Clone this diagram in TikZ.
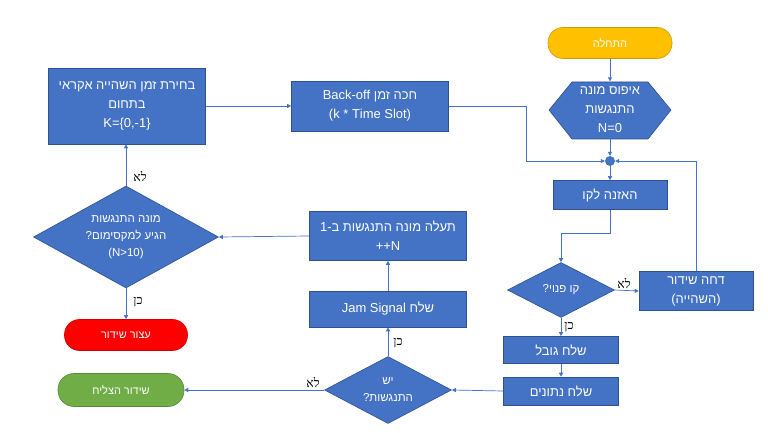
\documentclass[tikz,border=0pt]{standalone}
\usepackage{fontspec}
\setmainfont{Liberation Sans}
\newfontfamily\hebfont[Script=Hebrew]{Liberation Sans}
\newfontfamily\hebserif[Script=Hebrew]{Liberation Serif}
\usetikzlibrary{shapes.geometric,arrows.meta}
\TeXXeTstate=1
\newcommand{\rtl}[1]{\beginR #1\endR}
\newcommand{\qm}{\kern0pt?}
\definecolor{boxblue}{HTML}{4472C4}
\definecolor{boxedge}{HTML}{2F528F}
\definecolor{startgold}{HTML}{FFC000}
\definecolor{stopred}{HTML}{FF0000}
\definecolor{okgreen}{HTML}{70AD47}

\begin{document}
\begin{tikzpicture}[x=1bp,y=-1bp,
  box/.style={draw=boxedge, fill=boxblue, text=white, line width=0.6bp,
    font=\hebfont\fontsize{13}{19}\selectfont, align=center, inner sep=1bp},
  dec/.style={diamond, aspect=2, draw=boxedge, fill=boxblue, text=white, line width=0.6bp,
    font=\hebfont\fontsize{11.5}{17}\selectfont, align=center, inner sep=0pt},
  term/.style={draw=#1!80!black, fill=#1, text=white, line width=0.6bp, rounded corners=15bp,
    font=\hebfont\fontsize{11}{13}\selectfont},
  flow/.style={draw=boxblue, line width=0.7bp, -{Triangle[length=4bp,width=4bp]}},
  lbl/.style={font=\hebserif\fontsize{12.5}{15}\selectfont, inner sep=1bp}]
  \useasboundingbox (0,0) rectangle (768,433);
  \fill[white] (0,0) rectangle (768,433);
  % coluna direita
  \node[term=startgold, minimum width=124bp, minimum height=31bp] (start) at (610,43) {\rtl{התחלה}};
  \filldraw[draw=boxedge, fill=boxblue, line width=0.6bp]
    (549,110) -- (572,82) -- (648,82) -- (671,110) -- (648,139) -- (572,139) -- cycle;
  \node[font=\hebfont\fontsize{13}{19}\selectfont, text=white, align=center,
    minimum width=122bp, minimum height=57bp, inner sep=0pt] (reset) at (610,110)
    {\rtl{איפוס מונה}\\\rtl{התנגשות}\\N=0};
  \node[circle, fill=boxblue, minimum size=10bp, inner sep=0pt] (jn) at (610,161) {};
  \node[box, minimum width=114bp, minimum height=29bp] (listen) at (610,195) {\rtl{האזנה לקו}};
  \node[dec, minimum width=107bp, minimum height=55bp] (free) at (561,290) {\rtl{קו פנוי\qm}};
  \node[box, minimum width=114bp, minimum height=39bp] (defer) at (696,291)
    {\rtl{דחה שידור}\\\rtl{(השהייה)}};
  \node[box, minimum width=115bp, minimum height=27bp] (preamble) at (561,350) {\rtl{שלח גובל}};
  \node[box, minimum width=115bp, minimum height=28bp] (data) at (561,391) {\rtl{שלח נתונים}};
  % coluna do meio
  \node[dec, minimum width=127bp, minimum height=67bp] (coll) at (388,390)
    {\rtl{יש}\\\rtl{התנגשות\qm}};
  \node[box, minimum width=157bp, minimum height=36bp] (jam) at (388,309)
    {\beginR שלח \beginL Jam Signal\endL\endR};
  \node[box, minimum width=157bp, minimum height=49bp] (inc) at (388,236)
    {\rtl{תעלה מונה התנגשות ב-1}\\++N};
  \node[box, minimum width=157bp, minimum height=50bp] (backoff) at (370,106)
    {\beginR חכה זמן \beginL Back-off\endL\endR\\(k * Time Slot)};
  % coluna esquerda
  \node[box, minimum width=157bp, minimum height=76bp] (pick) at (127,106)
    {\rtl{בחירת זמן השהייה אקראי}\\\rtl{בתחום}\\K=\{0,-1\}};
  \node[dec, minimum width=185bp, minimum height=102bp] (max) at (126,237)
    {\rtl{מונה התנגשות}\\\rtl{הגיע למקסימום\qm}\\(N>10)};
  \node[term=stopred, minimum width=123bp, minimum height=31bp] (stop) at (126,335) {\rtl{עצור שידור}};
  \node[term=okgreen, minimum width=126bp, minimum height=33bp, rounded corners=16bp] (ok) at (121,390)
    {\rtl{שידור הצליח}};
  % setas
  \draw[flow] (start) -- (reset);
  \draw[flow] (reset) -- (jn);
  \draw[flow] (jn) -- (listen);
  \draw[flow] (listen.south) -- ++(0,24) -| (free.north);
  \draw[flow] (free.east) -- (defer.west);
  \draw[flow] (defer.north) |- (jn.east);
  \draw[flow] (free.south) -- (preamble.north);
  \draw[flow] (preamble) -- (data);
  \draw[flow] (data.west) -- (coll.east);
  \draw[flow] (coll.west) -- (ok.east);
  \draw[flow] (coll.north) -- (jam.south);
  \draw[flow] (jam) -- (inc);
  \draw[flow] (inc.west) -- (max.east);
  \draw[flow] (max.north) -- (max.north |- pick.south);
  \draw[flow] (max.south) -- (max.south |- stop.north);
  \draw[flow] (pick.east) -- (backoff.west);
  \draw[flow] (backoff.east) -- ++(78,0) |- (jn.west);
  % rotulos
  \node[lbl] (no1) at (140,176) {\rtl{לא}};
  \node[lbl] (yes1) at (138,302) {\rtl{כן}};
  \node[lbl] (no2) at (624,283) {\rtl{לא}};
  \node[lbl] (yes2) at (569,327) {\rtl{כן}};
  \node[lbl] (yes3) at (398,343) {\rtl{כן}};
  \node[lbl] (no3) at (313,382) {\rtl{לא}};
\end{tikzpicture}
\end{document}
